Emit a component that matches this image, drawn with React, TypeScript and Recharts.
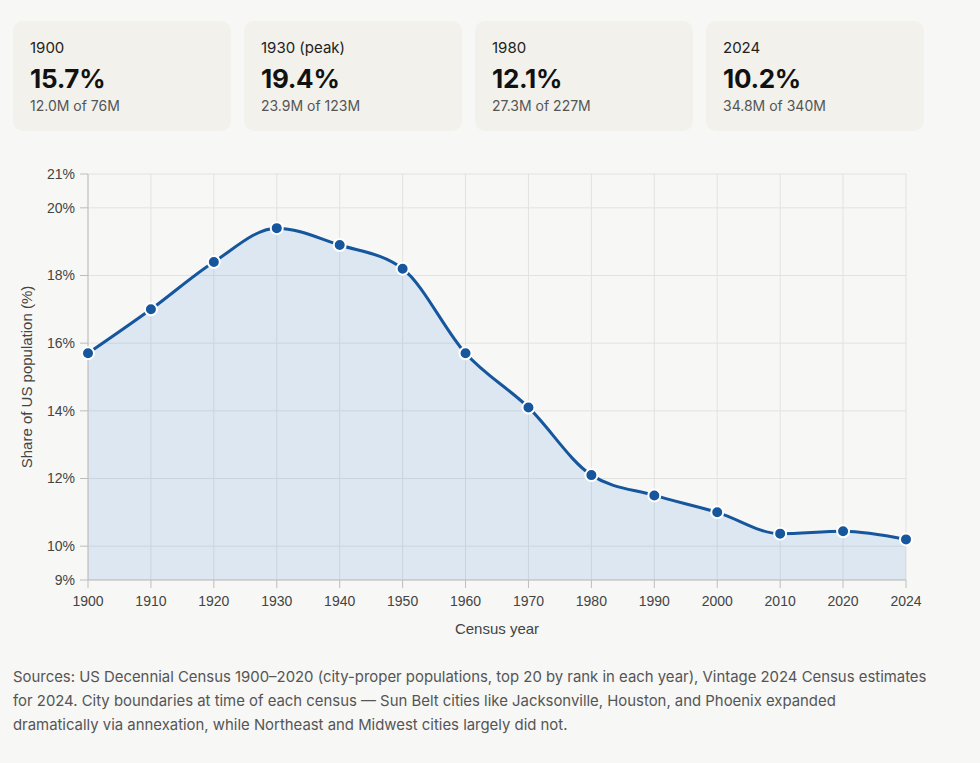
import React from "react";
import { AreaChart, Area, XAxis, YAxis, CartesianGrid } from "recharts";

// Share of the US population living in the 20 largest cities, by census year
const years = ["1900", "1910", "1920", "1930", "1940", "1950", "1960", "1970", "1980", "1990", "2000", "2010", "2020", "2024"];
const shares = [15.7, 17.0, 18.4, 19.4, 18.9, 18.2, 15.7, 14.1, 12.1, 11.5, 11.0, 10.37, 10.44, 10.2];

const yTicks = [9, 10, 12, 14, 16, 18, 20, 21];

// summary cards
const cardLabels = ["1900", "1930 (peak)", "1980", "2024"];
const cardValues = ["15.7%", "19.4%", "12.1%", "10.2%"];
const cardSubs = ["12.0M of 76M", "23.9M of 123M", "27.3M of 227M", "34.8M of 340M"];

const data = years.map((year, i) => ({ year, share: shares[i] }));

const BLUE = "#15569c";
const tickStyle = { fill: "#444", fontSize: 14, fontFamily: "'Liberation Sans', Arial, sans-serif" };
const labelStyle = { fill: "#444", fontSize: 15, fontFamily: "'Liberation Sans', Arial, sans-serif" };

function StatCard({ label, value, sub, left }: { label: string; value: string; sub: string; left: number }) {
  return (
    <div
      style={{
        position: "absolute",
        left,
        top: 21,
        width: 218,
        height: 110,
        borderRadius: 10,
        background: "#f2f1eb",
      }}
    >
      <div style={{ position: "absolute", left: 17, top: 18, fontSize: 15, lineHeight: "18px", color: "#222" }}>
        {label}
      </div>
      <div
        style={{
          position: "absolute",
          left: 17,
          top: 43,
          fontSize: 26,
          lineHeight: "30px",
          fontWeight: 700,
          color: "#111",
          letterSpacing: -0.3,
        }}
      >
        {value}
      </div>
      <div style={{ position: "absolute", left: 17, top: 76, fontSize: 14, lineHeight: "18px", color: "#555" }}>
        {sub}
      </div>
    </div>
  );
}

export default function App() {
  return (
    <div
      style={{
        position: "absolute",
        left: 0,
        top: 0,
        width: 980,
        height: 763,
        background: "#f7f7f5",
        overflow: "hidden",
        fontFamily: "Inter, 'Noto Sans', sans-serif",
      }}
    >
      {cardLabels.map((label, i) => (
        <StatCard key={label} label={label} value={cardValues[i]} sub={cardSubs[i]} left={13 + i * 231} />
      ))}

      <div style={{ position: "absolute", left: 0, top: 160 }}>
        <AreaChart width={980} height={490} data={data} margin={{ top: 14, right: 74, bottom: 10, left: 0 }}>
          <CartesianGrid stroke="#e2e2e0" strokeWidth={1} />
          <XAxis
            dataKey="year"
            type="category"
            scale="point"
            padding={{ left: 0, right: 0 }}
            interval={0}
            height={60}
            tickSize={8}
            tickMargin={8}
            tick={tickStyle}
            stroke="#bdbdbd"
            label={{ value: "Census year", position: "insideBottom", offset: 6, style: labelStyle }}
          />
          <YAxis
            type="number"
            domain={[9, 21]}
            ticks={yTicks}
            interval={0}
            width={88}
            tickSize={8}
            tickMargin={5}
            tick={tickStyle}
            stroke="#bdbdbd"
            tickFormatter={(v: number) => `${v}%`}
            label={{
              value: "Share of US population (%)",
              angle: -90,
              position: "insideLeft",
              offset: 27,
              style: { ...labelStyle, textAnchor: "middle" },
            }}
          />
          <Area
            type="monotone"
            dataKey="share"
            stroke={BLUE}
            strokeWidth={3}
            fill="#2f7ad9"
            fillOpacity={0.13}
            dot={{ r: 6, fill: BLUE, stroke: "#fff", strokeWidth: 2, fillOpacity: 1 }}
            activeDot={false}
            isAnimationActive={false}
          />
        </AreaChart>
      </div>

      <div
        style={{
          position: "absolute",
          left: 13,
          top: 665,
          width: 960,
          fontSize: 14.9,
          lineHeight: "24px",
          color: "#555",
        }}
      >
        Sources: US Decennial Census 1900–2020 (city-proper populations, top 20 by rank in each year), Vintage 2024
        Census estimates
        <br />
        for 2024. City boundaries at time of each census — Sun Belt cities like Jacksonville, Houston, and Phoenix
        expanded
        <br />
        dramatically via annexation, while Northeast and Midwest cities largely did not.
      </div>
    </div>
  );
}
